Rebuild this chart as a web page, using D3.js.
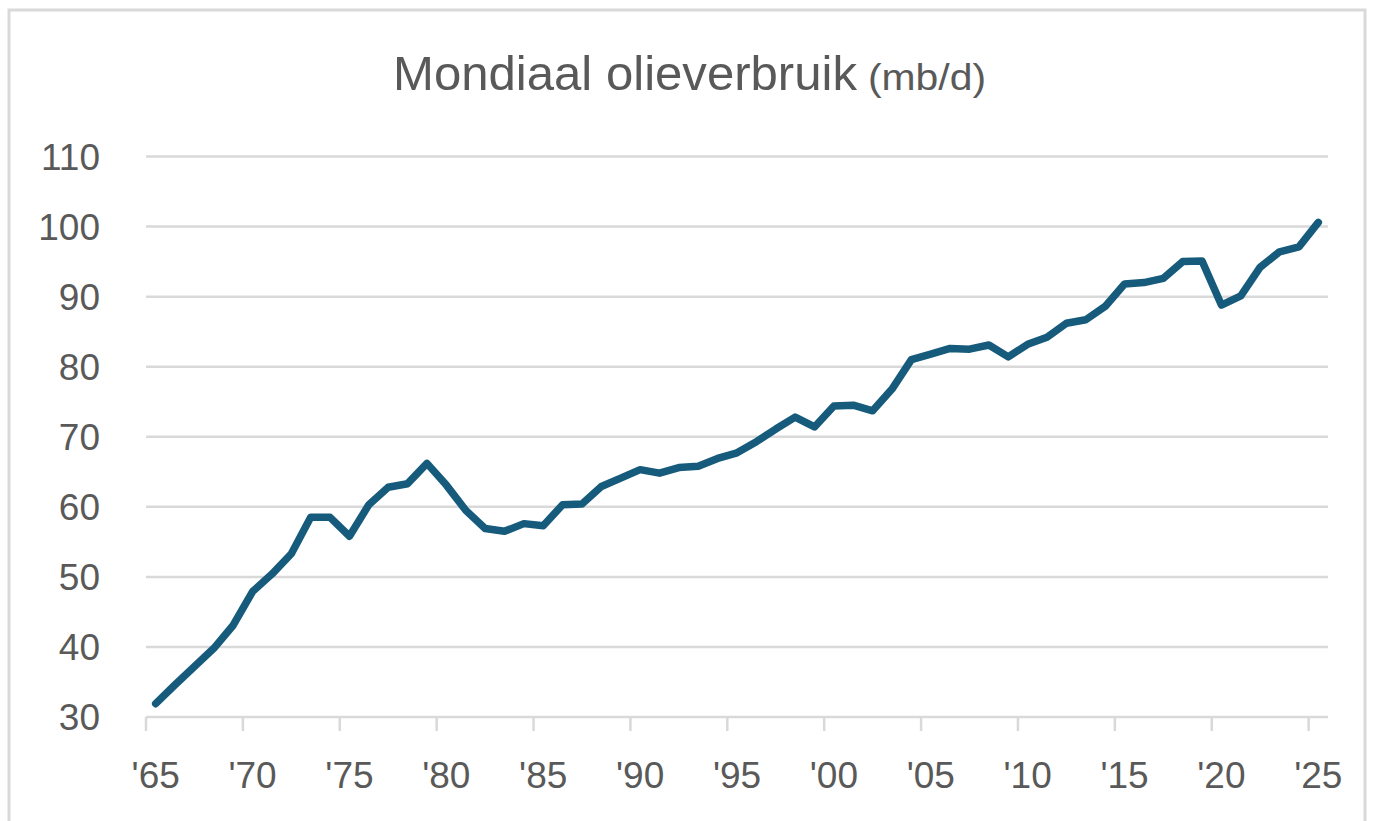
<!DOCTYPE html>
<html>
<head>
<meta charset="utf-8">
<script src="https://cdn.jsdelivr.net/npm/d3@7"></script>
<style>
  html, body { margin: 0; padding: 0; background: #fff; }
  svg { display: block; }
</style>
</head>
<body>
<svg id="chart" width="1373" height="821"></svg>
<script>
// Data
const years = d3.range(1965, 2026);
const consumption = [
  31.9, 34.6, 37.2, 39.8, 43.1, 47.9, 50.4, 53.3, 58.5, 58.5,
  55.8, 60.3, 62.8, 63.3, 66.2, 63.1, 59.5, 56.9, 56.5, 57.6,
  57.3, 60.3, 60.4, 62.9, 64.1, 65.3, 64.8, 65.6, 65.8, 66.9,
  67.7, 69.3, 71.1, 72.8, 71.4, 74.4, 74.5, 73.7, 76.8, 81.0,
  81.8, 82.6, 82.5, 83.1, 81.4, 83.2, 84.2, 86.2, 86.7, 88.6,
  91.8, 92.0, 92.6, 95.0, 95.1, 88.8, 90.1, 94.2, 96.4, 97.1,
  100.6
];
const yTicks = [30, 40, 50, 60, 70, 80, 90, 100, 110];
const xTickYears = [1965, 1970, 1975, 1980, 1985, 1990, 1995, 2000, 2005, 2010, 2015, 2020, 2025];
const xTickLabels = ["'65", "'70", "'75", "'80", "'85", "'90", "'95", "'00", "'05", "'10", "'15", "'20", "'25"];
const titleMain = "Mondiaal olieverbruik";
const titleUnit = "(mb/d)";

(function () {
const svg = d3.select("#chart");

// Outer border
svg.append("rect")
  .attr("x", 9).attr("y", 10).attr("width", 1356).attr("height", 822)
  .attr("fill", "#fff").attr("stroke", "#d9d9d9").attr("stroke-width", 3);

const mLeft = 146, mRight = 1328, mTop = 156.5, mBottom = 717;

const x = d3.scaleBand().domain(years).range([mLeft, mRight]).paddingInner(0).paddingOuter(0);
const y = d3.scaleLinear().domain([30, 110]).range([mBottom, mTop]);

// Gridlines
svg.append("g")
  .selectAll("line")
  .data(yTicks.filter(d => d !== 30))
  .join("line")
  .attr("x1", mLeft).attr("x2", mRight)
  .attr("y1", d => y(d)).attr("y2", d => y(d))
  .attr("stroke", "#d9d9d9").attr("stroke-width", 2.5);

// Y axis labels
const yAxis = d3.axisLeft(y).tickValues(yTicks).tickSize(0).tickPadding(0).tickFormat(d3.format("d"));
const gy = svg.append("g").attr("transform", `translate(${mLeft - 46},0)`).call(yAxis);
gy.select(".domain").remove();
gy.selectAll("text")
  .attr("font-family", "'Liberation Sans', Arial, sans-serif")
  .attr("font-size", 37)
  .attr("fill", "#595959")
  .attr("dy", "0.35em")
  .attr("text-anchor", "end");

// X axis: line + ticks at category boundaries
const gx = svg.append("g");
gx.append("line")
  .attr("x1", mLeft).attr("x2", mRight)
  .attr("y1", mBottom).attr("y2", mBottom)
  .attr("stroke", "#d9d9d9").attr("stroke-width", 2.5);
gx.selectAll("line.tick")
  .data(xTickYears)
  .join("line")
  .attr("class", "tick")
  .attr("x1", d => x(d)).attr("x2", d => x(d))
  .attr("y1", mBottom).attr("y2", mBottom + 14)
  .attr("stroke", "#d9d9d9").attr("stroke-width", 2.5);
gx.selectAll("text")
  .data(xTickYears)
  .join("text")
  .attr("x", (d) => x(d) + x.bandwidth() / 2)
  .attr("y", 788)
  .attr("text-anchor", "middle")
  .attr("font-family", "'Liberation Sans', Arial, sans-serif")
  .attr("font-size", 37)
  .attr("fill", "#595959")
  .text((d, i) => xTickLabels[i]);

// Line
const line = d3.line()
  .x((d, i) => x(years[i]) + x.bandwidth() / 2)
  .y(d => y(d));
svg.append("path")
  .datum(consumption)
  .attr("d", line)
  .attr("fill", "none")
  .attr("stroke", "#165b7c")
  .attr("stroke-width", 7.5)
  .attr("stroke-linejoin", "round")
  .attr("stroke-linecap", "round");

// Title
svg.append("text")
  .attr("x", 393).attr("y", 90)
  .attr("font-family", "'Liberation Sans Narrow', 'Liberation Sans', Arial, sans-serif")
  .attr("font-size", 49)
  .attr("fill", "#595959")
  .attr("textLength", 464)
  .attr("lengthAdjust", "spacingAndGlyphs")
  .text(titleMain);
svg.append("text")
  .attr("x", 868).attr("y", 90)
  .attr("font-family", "'Liberation Sans Narrow', 'Liberation Sans', Arial, sans-serif")
  .attr("font-size", 36)
  .attr("fill", "#595959")
  .attr("textLength", 118)
  .attr("lengthAdjust", "spacingAndGlyphs")
  .text(titleUnit);
})();
</script>
</body>
</html>
